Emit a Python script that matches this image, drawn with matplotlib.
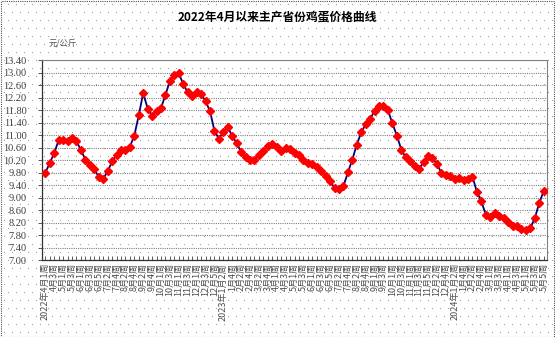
import numpy as np
import matplotlib
matplotlib.use('Agg')
import matplotlib.pyplot as plt
from matplotlib.patches import Rectangle

# weekly egg price, 2022 Apr week 1 .. 2024 May week 5 (yuan/kg)
prices = [9.80, 10.11, 10.43, 10.84, 10.86, 10.81, 10.90, 10.81, 10.52, 10.22,
          10.05, 9.92, 9.66, 9.61, 9.84, 10.16, 10.36, 10.54, 10.52, 10.63,
          10.99, 11.64, 12.35, 11.85, 11.63, 11.77, 11.87, 12.29, 12.74, 12.93,
          12.98, 12.63, 12.37, 12.27, 12.38, 12.33, 12.08, 11.78, 11.14, 10.89,
          11.10, 11.26, 10.97, 10.75, 10.46, 10.31, 10.20, 10.21, 10.36, 10.51,
          10.67, 10.73, 10.61, 10.49, 10.59, 10.55, 10.43,
          10.36, 10.20, 10.11, 10.07, 9.99, 9.86, 9.70, 9.53, 9.31, 9.27,
          9.37, 9.81, 10.22, 10.70, 11.09, 11.35, 11.52, 11.78, 11.94, 11.95,
          11.80, 11.38, 10.99, 10.54, 10.29, 10.17, 10.01, 9.93, 10.13, 10.32,
          10.26, 10.09, 9.79, 9.74, 9.70, 9.59, 9.62, 9.56, 9.61, 9.67,
          9.18, 8.88, 8.46, 8.38, 8.51, 8.43, 8.34, 8.23, 8.10, 8.09,
          8.01, 7.97, 8.03, 8.34, 8.83, 9.21]

# (year, month, number of weeks) for each month covered
months = [(2022, 4, 4), (2022, 5, 4), (2022, 6, 5), (2022, 7, 4), (2022, 8, 4),
          (2022, 9, 5), (2022, 10, 4), (2022, 11, 4), (2022, 12, 5),
          (2023, 1, 4), (2023, 2, 4), (2023, 3, 5), (2023, 4, 4), (2023, 5, 4),
          (2023, 6, 5), (2023, 7, 4), (2023, 8, 5), (2023, 9, 4), (2023, 10, 4),
          (2023, 11, 5), (2023, 12, 4),
          (2024, 1, 4), (2024, 2, 5), (2024, 3, 4), (2024, 4, 4), (2024, 5, 5)]

y_ticks = [7.00 + 0.40 * i for i in range(17)]

title = '2022年4月以来主产省份鸡蛋价格曲线'
unit = '元/公斤'

# build week labels, every second week shown, year prefix on first shown week of a year
week_labels = []
seen_years = set()
i = 0
for year, month, n_weeks in months:
    for w in range(1, n_weeks + 1):
        if i % 2 == 0:
            txt = f'{month}月{w}周'
            if year not in seen_years:
                txt = f'{year}年' + txt
                seen_years.add(year)
            week_labels.append(txt)
        else:
            week_labels.append('')
        i += 1

cjk = ['Noto Sans CJK SC', 'DejaVu Sans']
plt.rcParams['font.family'] = cjk

W, H = 555, 337
fig = plt.figure(figsize=(W / 100, H / 100), dpi=100)
fig.patch.set_facecolor('white')

# dotted background pattern and dotted outer frame
bg = fig.add_axes([0, 0, 1, 1], zorder=-5)
bg.set_xlim(0, W)
bg.set_ylim(0, H)
bg.axis('off')
gx, gy = np.meshgrid(np.arange(4, W, 8), np.arange(4, H, 8))
gx = gx + (np.arange(gy.shape[0])[:, None] % 2) * 4
bg.plot(gx.ravel(), gy.ravel(), ',', color='#9a9a9a')
bg.add_patch(Rectangle((0.5, 0.5), W - 1.5, H - 1.5, fill=False,
                       edgecolor='#505050', linestyle=(0, (1, 1)), linewidth=0.8))

ax = fig.add_axes([42 / W, 1 - 260.2 / H, (547 - 42) / W, 200 / H])
ax.patch.set_alpha(0)

x = np.arange(len(prices))
ax.plot(x, prices, color='#000080', linewidth=1.3, marker='D', markersize=3.6,
        markerfacecolor='#ff0000', markeredgecolor='#ff0000', zorder=3)

ax.set_xlim(-0.75, len(prices) - 1 + 0.75)
ax.set_ylim(7.0, 13.4)
ax.set_yticks(y_ticks)
ax.set_yticklabels([f'{v:.2f}' for v in y_ticks], family='Liberation Serif',
                   fontsize=7.5, color='#404040')
ax.yaxis.grid(True, color='#808080', linestyle=(0, (1, 1)), linewidth=0.8)
ax.set_axisbelow(True)

ax.set_xticks(x)
ax.set_xticklabels(week_labels, rotation=90, fontsize=6.5, color='#505050',
                   va='top', ha='center')
ax.tick_params(axis='x', direction='in', length=3, width=0.6, color='#404040', pad=2)
ax.tick_params(axis='y', direction='out', length=3, width=0.6, color='#404040', pad=8)

for side in ['top', 'right']:
    ax.spines[side].set_color('#808080')
    ax.spines[side].set_linestyle((0, (1, 1)))
    ax.spines[side].set_linewidth(0.8)
for side in ['left', 'bottom']:
    ax.spines[side].set_color('#303030')
    ax.spines[side].set_linewidth(0.9)

fig.text(277 / W, 1 - 17 / H, title, ha='center', va='center',
         fontsize=8.5, fontweight='bold', color='black')
fig.text(63 / W, 1 - 43 / H, unit, ha='center', va='center',
         fontsize=6, color='#505050')

fig.savefig('out.png', dpi=100)
